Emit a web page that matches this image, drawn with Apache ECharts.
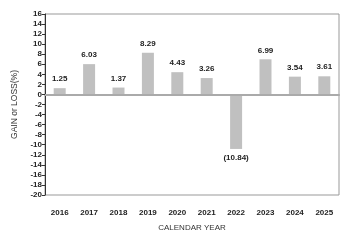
<!DOCTYPE html>
<html><head><meta charset="utf-8">
<script src="https://cdn.jsdelivr.net/npm/echarts@6/dist/echarts.min.js"></script>
<style>html,body{margin:0;padding:0;background:#fff}#c{width:350px;height:242px}</style>
</head><body><div id="c"></div>
<script>
var categories = ['2016','2017','2018','2019','2020','2021','2022','2023','2024','2025'];
var values = [1.25, 6.03, 1.37, 8.29, 4.43, 3.26, -10.84, 6.99, 3.54, 3.61];
var yTicks = {min: -20, max: 16, interval: 2};
var FONT = "'Liberation Sans Narrow', 'Arial Narrow', 'Liberation Sans', Arial, sans-serif";
var chart = echarts.init(document.getElementById('c'));
var barData = values.map(function(v){
  return {value: v, label: {position: v < 0 ? 'bottom' : 'top'}};
});
chart.setOption({
  animation: false,
  grid: {left: 45, right: 11, top: 14, bottom: 47, show: true, borderColor: '#999', borderWidth: 1},
  xAxis: {
    type: 'category', data: categories,
    axisLine: {show: true, lineStyle: {color: '#aaa', width: 2}},
    axisTick: {show: false},
    axisLabel: {color: '#222', fontFamily: FONT, fontWeight: 'bold', fontSize: 8, margin: 14},
    name: 'CALENDAR YEAR', nameLocation: 'middle', nameGap: 29,
    nameTextStyle: {color: '#333', fontFamily: 'Liberation Sans, Arial, sans-serif', fontSize: 8}
  },
  yAxis: {
    type: 'value', min: yTicks.min, max: yTicks.max, interval: yTicks.interval,
    axisLine: {show: true, lineStyle: {color: '#333', width: 1}},
    axisTick: {show: true, length: 3, lineStyle: {color: '#333'}},
    splitLine: {show: false},
    axisLabel: {color: '#222', fontFamily: FONT, fontWeight: 'bold', fontSize: 8, margin: 3},
    name: 'GAIN or LOSS(%)', nameLocation: 'middle', nameGap: 13, nameRotate: 90,
    nameTextStyle: {color: '#333', fontFamily: 'Liberation Sans, Arial, sans-serif', fontSize: 8.5}
  },
  series: [{
    type: 'bar', data: barData, barWidth: 12,
    itemStyle: {color: '#c0c0c0'},
    label: {
      show: true, position: 'top', distance: 5,
      color: '#222', fontFamily: FONT, fontWeight: 'bold', fontSize: 8,
      formatter: function(p){ return p.value < 0 ? '(' + Math.abs(p.value).toFixed(2) + ')' : p.value.toFixed(2); }
    },
    markLine: {
      silent: true, symbol: 'none', label: {show: false},
      lineStyle: {color: '#aaa', width: 2, type: 'solid'},
      data: [{yAxis: 0}]
    }
  }]
});
</script></body></html>
